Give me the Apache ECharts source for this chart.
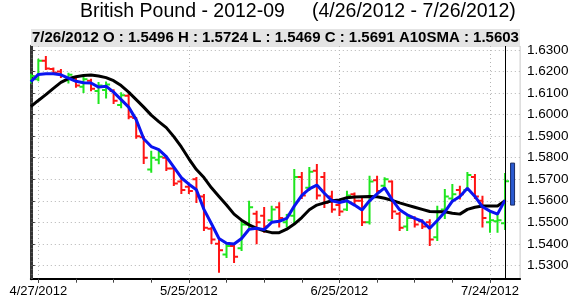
<!DOCTYPE html>
<html>
<head>
<meta charset="utf-8">
<script src="https://cdn.jsdelivr.net/npm/echarts@6/dist/echarts.min.js"></script>
<style>html,body{margin:0;padding:0;background:#fff;}#c{width:584px;height:308px;}</style>
</head>
<body>
<div id="c"></div>
<script>
const dates = ['4/26/2012','4/27/2012','4/30/2012','5/1/2012','5/2/2012','5/3/2012','5/4/2012',
'5/7/2012','5/8/2012','5/9/2012','5/10/2012','5/11/2012',
'5/14/2012','5/15/2012','5/16/2012','5/17/2012','5/18/2012',
'5/21/2012','5/22/2012','5/23/2012','5/24/2012','5/25/2012',
'5/29/2012','5/30/2012','5/31/2012','6/1/2012',
'6/4/2012','6/5/2012','6/6/2012','6/7/2012','6/8/2012',
'6/11/2012','6/12/2012','6/13/2012','6/14/2012','6/15/2012',
'6/18/2012','6/19/2012','6/20/2012','6/21/2012','6/22/2012',
'6/25/2012','6/26/2012','6/27/2012','6/28/2012','6/29/2012',
'7/2/2012','7/3/2012','7/5/2012','7/6/2012',
'7/9/2012','7/10/2012','7/11/2012','7/12/2012','7/13/2012',
'7/16/2012','7/17/2012','7/18/2012','7/19/2012','7/20/2012',
'7/23/2012','7/24/2012','7/25/2012','7/26/2012'];

const openP  = [1.6155,1.6165,1.6250,1.6212,1.6200,1.6160,1.6170,1.6130,1.6158,1.6110,1.6115,1.6110,1.6045,1.6088,1.5985,1.5895,1.5745,1.5790,1.5800,1.5750,1.5690,1.5665,1.5700,1.5620,1.5470,1.5400,1.5350,1.5390,1.5380,1.5490,1.5540,1.5530,1.5510,1.5570,1.5500,1.5530,1.5710,1.5660,1.5740,1.5710,1.5620,1.5580,1.5560,1.5630,1.5600,1.5500,1.5695,1.5670,1.5690,1.5540,1.5480,1.5520,1.5505,1.5500,1.5430,1.5560,1.5610,1.5650,1.5650,1.5710,1.5600,1.5500,1.5505,1.5496];
const highP  = [1.6185,1.6255,1.6268,1.6215,1.6207,1.6190,1.6172,1.6170,1.6162,1.6147,1.6150,1.6114,1.6100,1.6091,1.5985,1.5896,1.5828,1.5828,1.5804,1.5752,1.5706,1.5673,1.5706,1.5627,1.5473,1.5415,1.5403,1.5394,1.5503,1.5596,1.5549,1.5566,1.5572,1.5589,1.5534,1.5743,1.5729,1.5752,1.5766,1.5729,1.5642,1.5589,1.5642,1.5634,1.5613,1.5712,1.5712,1.5705,1.5690,1.5543,1.5534,1.5523,1.5510,1.5510,1.5572,1.5650,1.5673,1.5665,1.5729,1.5720,1.5619,1.5549,1.5534,1.5724];
const lowP   = [1.6150,1.6160,1.6212,1.6190,1.6175,1.6150,1.6130,1.6105,1.6114,1.6054,1.6080,1.6054,1.6035,1.5983,1.5893,1.5775,1.5735,1.5774,1.5743,1.5673,1.5636,1.5636,1.5594,1.5464,1.5404,1.5270,1.5339,1.5315,1.5371,1.5473,1.5403,1.5456,1.5503,1.5480,1.5480,1.5500,1.5613,1.5650,1.5610,1.5571,1.5549,1.5534,1.5557,1.5589,1.5487,1.5495,1.5634,1.5664,1.5520,1.5464,1.5464,1.5480,1.5473,1.5394,1.5418,1.5520,1.5603,1.5611,1.5650,1.5613,1.5480,1.5456,1.5456,1.5469];
const closeP = [1.6180,1.6250,1.6215,1.6195,1.6180,1.6185,1.6135,1.6165,1.6120,1.6135,1.6140,1.6065,1.6090,1.5990,1.5900,1.5800,1.5800,1.5805,1.5750,1.5680,1.5650,1.5645,1.5620,1.5475,1.5420,1.5370,1.5390,1.5340,1.5490,1.5570,1.5500,1.5480,1.5560,1.5520,1.5535,1.5710,1.5625,1.5735,1.5625,1.5590,1.5560,1.5550,1.5625,1.5600,1.5500,1.5690,1.5645,1.5700,1.5550,1.5475,1.5520,1.5490,1.5480,1.5420,1.5550,1.5620,1.5630,1.5630,1.5720,1.5620,1.5520,1.5510,1.5510,1.5691];

const smaShort = [1.6153,1.6187,1.6190,1.6190,1.6185,1.6170,1.6155,1.6148,1.6147,1.6128,1.6132,1.6105,1.6070,1.6035,1.5977,1.5888,1.5852,1.5838,1.5805,1.5756,1.5707,1.5677,1.5651,1.5560,1.5493,1.5425,1.5403,1.5399,1.5425,1.5468,1.5472,1.5466,1.5500,1.5505,1.5518,1.5575,1.5625,1.5655,1.5673,1.5635,1.5600,1.5592,1.5600,1.5580,1.5557,1.5600,1.5632,1.5660,1.5605,1.5558,1.5535,1.5518,1.5505,1.5472,1.5508,1.5548,1.5598,1.5620,1.5658,1.5620,1.5572,1.5552,1.5538,1.5603];
const smaLong  = [1.6037,1.6066,1.6093,1.6122,1.6150,1.6167,1.6176,1.6182,1.6184,1.6180,1.6172,1.6158,1.6135,1.6105,1.6070,1.6035,1.5998,1.5968,1.5940,1.5898,1.5850,1.5795,1.5745,1.5708,1.5660,1.5620,1.5580,1.5538,1.5510,1.5488,1.5472,1.5460,1.5452,1.5452,1.5468,1.5492,1.5522,1.5558,1.5580,1.5590,1.5600,1.5604,1.5614,1.5617,1.5619,1.5620,1.5619,1.5612,1.5602,1.5590,1.5580,1.5570,1.5560,1.5550,1.5549,1.5549,1.5542,1.5538,1.5560,1.5570,1.5576,1.5576,1.5576,1.5600];

const projection = [1.5580, 1.5775];
const yTickLabels = [1.53,1.54,1.55,1.56,1.57,1.58,1.59,1.60,1.61,1.62,1.63];
const xLabelIdx = [1,21,41,61];
const xMinorIdx = [1,6,11,16,21,26,31,36,41,46,51,56,61];

const last = dates.length - 1;
const FONT = 'Liberation Sans, Arial, sans-serif';
const GREEN = '#1ee61e', RED = '#ff1414';

const ohlc = dates.map((d,i)=>[i, openP[i], highP[i], lowP[i], closeP[i]]);
const minorY = [];
for (let v = 1524; v <= 1630; v += 2) minorY.push(v/1000);

const chart = echarts.init(document.getElementById('c'), null, {renderer:'canvas'});
const headerText = dates[last] + ' O : ' + openP[last].toFixed(4) + ' H : ' + highP[last].toFixed(4) +
  ' L : ' + lowP[last].toFixed(4) + ' C : ' + closeP[last].toFixed(4) + ' A10SMA : ' + smaShort[last].toFixed(4);

chart.setOption({
  animation: false,
  backgroundColor: '#fff',
  grid: {left: 30.8, right: 63.9, top: 46, bottom: 29.3, show: true, borderColor: '#c8c8c8', borderWidth: 1},
  xAxis: [{
    type: 'value', min: 0, max: 65,
    axisLine: {show: false},
    axisTick: {show: true, customValues: xLabelIdx, length: 4, lineStyle: {color: '#000'}},
    axisLabel: {customValues: xLabelIdx, formatter: v => dates[v] || '', color: '#000', fontFamily: FONT, fontSize: 13, margin: 6},
    splitLine: {show: true, lineStyle: {color: '#b4b4b4', type: [1,3], width: 1}}
  },{
    type: 'value', min: 0, max: 65, position: 'bottom',
    axisLine: {show: true, onZero: false, lineStyle: {color: '#000', width: 2}},
    axisTick: {show: true, customValues: xMinorIdx, length: 4, lineStyle: {color: '#444'}},
    axisLabel: {show: false},
    splitLine: {show: false}
  }],
  yAxis: [{
    type: 'value', position: 'right', min: 1.5238, max: 1.6319,
    axisLine: {show: true, lineStyle: {color: '#333', width: 3}},
    axisTick: {show: true, customValues: yTickLabels, length: 4, lineStyle: {color: '#333'}},
    axisLabel: {customValues: yTickLabels, formatter: v => v.toFixed(4), color: '#000', fontFamily: FONT, fontSize: 13.5, margin: 7},
    splitLine: {show: true, lineStyle: {color: '#b4b4b4', type: [1,3], width: 1}}
  },{
    type: 'value', position: 'right', min: 1.5238, max: 1.6319,
    axisLine: {show: false},
    axisTick: {show: true, customValues: minorY, length: 2, lineStyle: {color: '#555'}},
    axisLabel: {show: false},
    splitLine: {show: false}
  }],
  graphic: [
    {type: 'text', x: 80, y: 2, style: {text: 'British Pound - 2012-09     (4/26/2012 - 7/26/2012)', font: '19.5px ' + FONT, fill: '#000'}, z: 10},
    {type: 'rect', shape: {x: 31, y: 29, width: 489, height: 17}, style: {fill: '#e4e4e4'}, z: 9},
    {type: 'text', x: 32, y: 38, style: {text: headerText, font: 'bold 15px ' + FONT, fill: '#000', verticalAlign: 'middle'}, z: 10}
  ],
  series: [{
    type: 'custom', xAxisIndex: 0, yAxisIndex: 0, data: ohlc, clip: true,
    renderItem: (params, api) => {
      const x = api.value(0);
      const o = api.coord([x, api.value(1)]);
      const h = api.coord([x, api.value(2)]);
      const l = api.coord([x, api.value(3)]);
      const c = api.coord([x, api.value(4)]);
      const col = api.value(4) >= api.value(1) ? GREEN : RED;
      const st = {stroke: col, lineWidth: 2};
      return {type: 'group', children: [
        {type: 'line', shape: {x1: h[0], y1: h[1]-1, x2: l[0], y2: l[1]+1}, style: st},
        {type: 'line', shape: {x1: o[0]-4, y1: o[1], x2: o[0], y2: o[1]}, style: st},
        {type: 'line', shape: {x1: c[0], y1: c[1], x2: c[0]+4, y2: c[1]}, style: st}
      ]};
    }
  },{
    type: 'custom', xAxisIndex: 0, yAxisIndex: 0, data: [[last + 1, projection[0], projection[1]]],
    renderItem: (params, api) => {
      const a = api.coord([api.value(0), api.value(1)]);
      const b = api.coord([api.value(0), api.value(2)]);
      return {type: 'rect', shape: {x: a[0]-2, y: b[1], width: 4, height: a[1]-b[1]}, style: {fill: '#2a5ad0', stroke: '#1a2a60', lineWidth: 1}};
    }
  },{
    type: 'line', xAxisIndex: 0, yAxisIndex: 0, data: smaLong.map((v,i)=>[i,v]), showSymbol: false,
    lineStyle: {color: '#000', width: 3}, z: 3,
    markLine: {silent: true, symbol: 'none', label: {show: false}, lineStyle: {color: '#000', width: 1, type: 'solid'}, data: [{xAxis: last}]}
  },{
    type: 'line', xAxisIndex: 0, yAxisIndex: 0, data: smaShort.map((v,i)=>[i,v]), showSymbol: false,
    lineStyle: {color: '#0a14f0', width: 3}, z: 4
  }]
});
</script>
</body>
</html>
